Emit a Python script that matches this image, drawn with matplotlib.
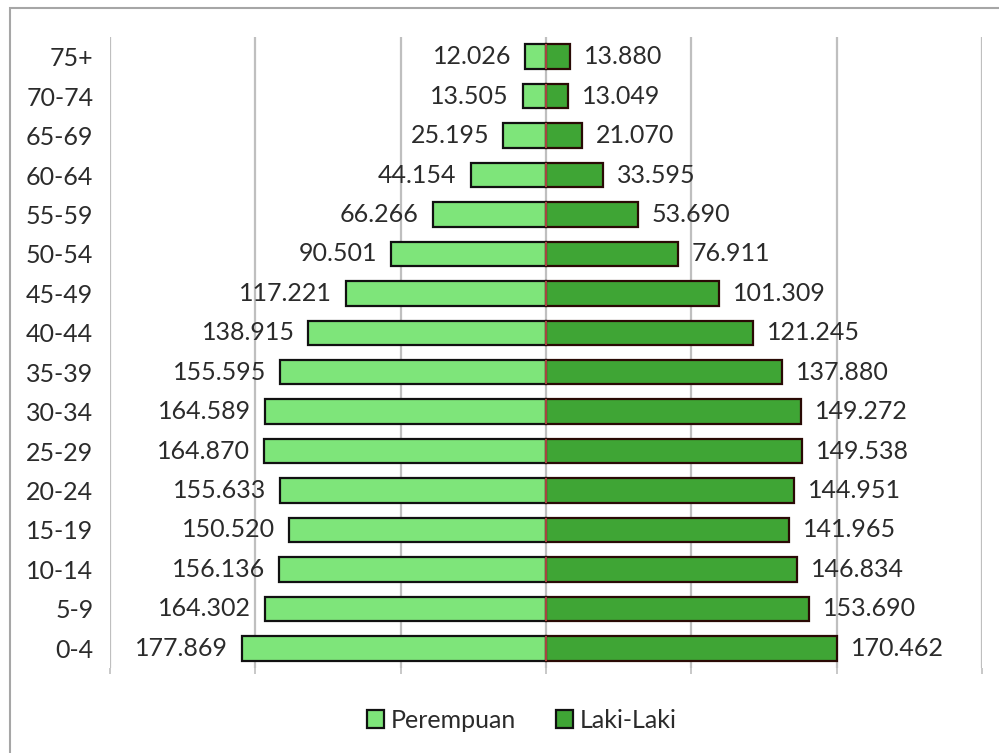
import matplotlib
matplotlib.use("Agg")
import matplotlib.pyplot as plt
from matplotlib.patches import Rectangle, Patch
import numpy as np

plt.rcParams['font.family'] = ['Lato', 'DejaVu Sans']

age_groups = ["0-4", "5-9", "10-14", "15-19", "20-24", "25-29", "30-34", "35-39",
              "40-44", "45-49", "50-54", "55-59", "60-64", "65-69", "70-74", "75+"]
perempuan = [177869, 164302, 156136, 150520, 155633, 164870, 164589, 155595,
             138915, 117221, 90501, 66266, 44154, 25195, 13505, 12026]
laki_laki = [170462, 153690, 146834, 141965, 144951, 149538, 149272, 137880,
             121245, 101309, 76911, 53690, 33595, 21070, 13049, 13880]
series_names = ["Perempuan", "Laki-Laki"]

def fmt(v):
    return f"{v:,}".replace(",", ".")

fig = plt.figure(figsize=(9.99, 7.53), dpi=100)
ax = fig.add_axes([110/999, 1-668/753, (982-110)/999, (668-37)/753])

y = np.arange(len(age_groups))
light = "#7EE57A"
dark = "#3FA535"
txt = "#2b2b2b"
fs = 18
step = 85000
ax.set_xlim(-3*step, 3*step)
ax.set_ylim(-0.5, len(age_groups)-0.5)

ax.set_axisbelow(True)
for k in range(-3, 4):
    ax.axvline(k*step, color="#BFBFBF", lw=1.6, zorder=0)

bh = 0.62
ax.barh(y, [-v for v in perempuan], height=bh, color=light, edgecolor="#111111", lw=1.6, zorder=2)
ax.barh(y, laki_laki, height=bh, color=dark, edgecolor="#2a0a05", lw=1.6, zorder=2)
ax.vlines(np.zeros(len(y)), y - bh/2, y + bh/2, color="#C0504D", lw=1.2, zorder=3)

for yi, v in zip(y, perempuan):
    ax.annotate(fmt(v), (-v, yi), xytext=(-10, 0), textcoords="offset points",
                ha="right", va="center", fontsize=fs, color=txt)
for yi, v in zip(y, laki_laki):
    ax.annotate(fmt(v), (v, yi), xytext=(10, 0), textcoords="offset points",
                ha="left", va="center", fontsize=fs, color=txt)

ax.set_yticks(y)
ax.set_yticklabels(age_groups, fontsize=fs, color=txt)
ax.tick_params(axis="y", length=0, pad=12)
ax.set_xticks([k*step for k in range(-3, 4)])
ax.set_xticklabels([])
ax.tick_params(axis="x", length=4, color="#BFBFBF", width=1.2)
for s in ax.spines.values():
    s.set_visible(False)

handles = [Patch(facecolor=light, edgecolor="#111111", lw=1.6, label=series_names[0]),
           Patch(facecolor=dark, edgecolor="#111111", lw=1.6, label=series_names[1])]
fig.legend(handles=handles, loc="center", bbox_to_anchor=(0.522, 1-720/753), ncol=2,
           frameon=False, fontsize=fs, handlelength=0.7, handleheight=0.7,
           handletextpad=0.25, columnspacing=1.6, labelcolor=txt)

fig.patches.append(Rectangle((10/999, -0.02), 1.0, 1-8/753+0.02, transform=fig.transFigure,
                             fill=False, edgecolor="#A6A6A6", lw=1.5))

fig.savefig("out.png", dpi=100)
